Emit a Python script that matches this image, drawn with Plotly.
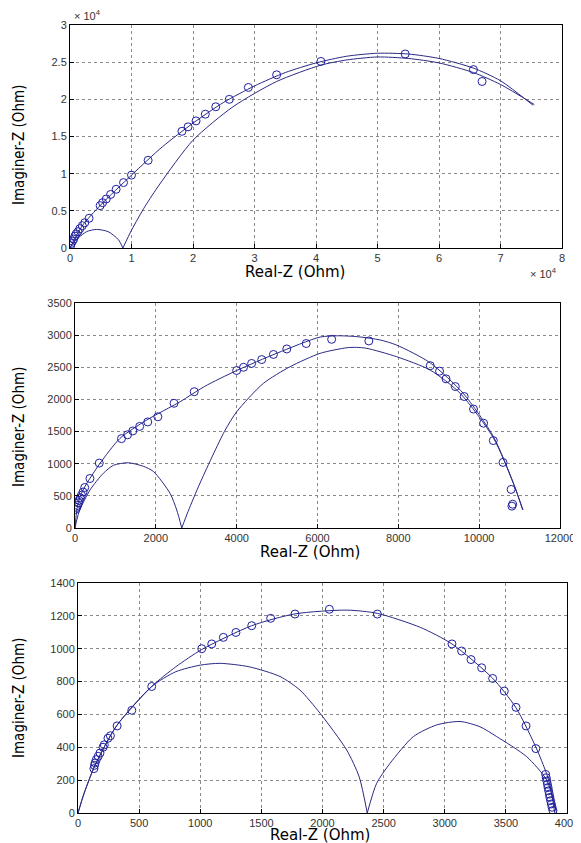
import plotly.graph_objects as go

# ---------------- Panel 1 (values in units of 1e4 Ohm) ----------------
p1_mk_x = [0.01, 0.02, 0.04, 0.06, 0.08, 0.10, 0.13, 0.16, 0.20, 0.24, 0.31, 0.49, 0.53, 0.59,
           0.66, 0.75, 0.87, 1.00, 1.27, 1.82, 1.92, 2.05, 2.20, 2.37, 2.59, 2.90, 3.36, 4.08,
           5.45, 6.56, 6.70]
p1_mk_y = [0.03, 0.06, 0.09, 0.12, 0.16, 0.19, 0.22, 0.26, 0.30, 0.34, 0.40, 0.57, 0.61, 0.66,
           0.72, 0.79, 0.88, 0.98, 1.18, 1.57, 1.63, 1.71, 1.80, 1.90, 2.00, 2.16, 2.33, 2.51,
           2.61, 2.40, 2.24]
p1_fit_x = [0, 0.2, 0.5, 1.0, 1.5, 2.0, 2.5, 3.0, 3.5, 4.0, 4.5, 5.0, 5.5, 6.0, 6.56, 7.0, 7.53]
p1_fit_y = [0, 0.30, 0.58, 0.98, 1.36, 1.68, 1.96, 2.18, 2.36, 2.49, 2.58, 2.62, 2.61, 2.55, 2.42, 2.25, 1.92]
p1_arcA_x = [0, 0.05, 0.14, 0.27, 0.43, 0.62, 0.79, 0.86]
p1_arcA_y = [0, 0.07, 0.14, 0.22, 0.25, 0.22, 0.11, 0.0]
p1_arcB_x = [0.86, 1.0, 1.22, 1.46, 2.0, 2.65, 3.36, 4.08, 4.5, 5.0, 5.5, 6.0, 6.56, 7.0, 7.55]
p1_arcB_y = [0.0, 0.24, 0.56, 0.86, 1.45, 1.90, 2.24, 2.46, 2.53, 2.57, 2.55, 2.49, 2.36, 2.20, 1.93]

# ---------------- Panel 2 (Ohm) ----------------
p2_mk_x = [20, 40, 60, 80, 100, 130, 160, 200, 240, 370, 600, 1150, 1300, 1430, 1600, 1800,
           2050, 2450, 2950, 4000, 4170, 4370, 4620, 4910, 5240, 5720, 6350, 7270, 8790, 9020,
           9180, 9410, 9630, 9860, 10110, 10350, 10590, 10790, 10810, 10830]
p2_mk_y = [290, 320, 350, 390, 430, 470, 510, 560, 630, 770, 1010, 1390, 1450, 1510, 1580, 1650,
           1730, 1940, 2120, 2450, 2500, 2560, 2620, 2700, 2785, 2870, 2935, 2910, 2525, 2440,
           2320, 2200, 2045, 1850, 1630, 1360, 1020, 600, 340, 370]
p2_fit_x = [0, 50, 124, 250, 371, 619, 1114, 1775, 2600, 3200, 4000, 5000, 6064, 6500, 7000,
            7550, 7960, 8787, 9612, 10354, 10849, 11081]
p2_fit_y = [0, 300, 490, 650, 773, 1006, 1395, 1680, 1964, 2200, 2450, 2720, 2970, 2990, 2975,
            2925, 2845, 2570, 2090, 1420, 695, 280]
p2_arcA_x = [0, 100, 371, 701, 950, 1320, 1690, 1938, 2351, 2517, 2641]
p2_arcA_y = [0, 250, 591, 851, 975, 1015, 960, 880, 540, 280, 0]
p2_arcB_x = [2641, 2800, 3094, 3696, 4002, 4661, 5322, 6064, 6725, 6972, 7220, 7960, 8787,
             9530, 10354, 10849, 11081]
p2_arcB_y = [0, 260, 700, 1500, 1809, 2250, 2509, 2717, 2804, 2810, 2795, 2664, 2457,
             2095, 1400, 690, 280]

# ---------------- Panel 3 (Ohm) ----------------
p3_mk_x = [130, 135, 140, 150, 165, 180, 205, 215, 245, 265, 320, 440, 603, 1012, 1094, 1189,
           1292, 1421, 1576, 1775, 2056, 2449, 3059, 3138, 3215, 3302, 3392, 3487, 3583, 3665,
           3745, 3825, 3830, 3835, 3840, 3845, 3850, 3855, 3860, 3866, 3872, 3878, 3885]
p3_mk_y = [270, 290, 305, 325, 345, 365, 400, 415, 455, 470, 530, 625, 770, 1000, 1029, 1069,
           1099, 1140, 1185, 1211, 1240, 1211, 1029, 986, 934, 884, 819, 742, 643, 530,
           392, 235, 215, 195, 175, 155, 135, 115, 95, 75, 55, 35, 15]
p3_fit_x = [0, 50, 139, 316, 603, 800, 1012, 1421, 1775, 2200, 2449, 2800, 3059, 3392, 3583,
            3752, 3850, 3900]
p3_fit_y = [0, 120, 290, 531, 770, 890, 995, 1140, 1212, 1235, 1215, 1130, 1029, 820, 640,
            390, 200, 0]
p3_arcA_x = [0, 50, 139, 316, 603, 800, 1000, 1161, 1400, 1652, 1816, 1980, 2198, 2300, 2366]
p3_arcA_y = [0, 120, 290, 531, 770, 860, 900, 911, 890, 831, 748, 607, 383, 220, 0]
p3_arcB_x = [2366, 2443, 2552, 2743, 2934, 3125, 3288, 3425, 3670, 3834, 3915]
p3_arcB_y = [0, 181, 302, 465, 536, 557, 525, 465, 343, 200, 0]

LINE = "#2a2a82"
MARK = "#1f1fa0"
OFF = 8                    # default page body margin
W, H = 581 - OFF, 843 - OFF

fig = go.Figure()

panels = [
    (p1_mk_x, p1_mk_y, p1_fit_x, p1_fit_y, p1_arcA_x, p1_arcA_y, p1_arcB_x, p1_arcB_y, ""),
    (p2_mk_x, p2_mk_y, p2_fit_x, p2_fit_y, p2_arcA_x, p2_arcA_y, p2_arcB_x, p2_arcB_y, "2"),
    (p3_mk_x, p3_mk_y, p3_fit_x, p3_fit_y, p3_arcA_x, p3_arcA_y, p3_arcB_x, p3_arcB_y, "3"),
]
for mx, my, fx, fy, ax_, ay_, bx, by, s in panels:
    xa, ya = "x" + s, "y" + s
    for lx, ly in ((fx, fy), (ax_, ay_), (bx, by)):
        fig.add_trace(go.Scatter(x=lx, y=ly, mode="lines", xaxis=xa, yaxis=ya,
                                 line=dict(color=LINE, width=1, shape="spline", smoothing=0.7),
                                 showlegend=False, hoverinfo="skip"))
    fig.add_trace(go.Scatter(x=mx, y=my, mode="markers", xaxis=xa, yaxis=ya,
                             marker=dict(symbol="circle-open", size=8, color=MARK,
                                         line=dict(width=1, color=MARK)),
                             showlegend=False))

def px2x(p):
    return (p - OFF) / W

def py2y(p):
    return 1 - (p - OFF) / H

tickfont = dict(family="Liberation Sans, Arial", size=11, color="#333333")
common = dict(showgrid=True, gridcolor="#8a8a8a", griddash="dot", gridwidth=1,
              showline=True, linecolor="black", linewidth=1, mirror=True,
              ticks="inside", ticklen=4, tickcolor="black", zeroline=False,
              tickfont=tickfont, automargin=False, fixedrange=True)

doms = [
    ((70, 562), (25, 248), [0, 8], 1, [0, 3], 0.5),
    ((75, 560), (303, 528), [0, 12000], 2000, [0, 3500], 500),
    ((78, 567), (583, 813), [0, 4000], 500, [0, 1400], 200),
]
lay = {}
for i, ((x0, x1), (y0, y1), xr, dx, yr, dy) in enumerate(doms):
    s = "" if i == 0 else str(i + 1)
    lay["xaxis" + s] = dict(common, domain=[px2x(x0), px2x(x1)], range=xr, dtick=dx, tick0=0,
                            anchor="y" + s, tickformat="d" if i else "")
    lay["yaxis" + s] = dict(common, domain=[py2y(y1), py2y(y0)], range=yr, dtick=dy, tick0=0,
                            anchor="x" + s, tickformat="d" if i else "")

ann = []
ytitle_font = dict(family="DejaVu Sans Condensed, Liberation Sans Narrow, Arial", size=15, color="black")
xtitle_font = dict(family="DejaVu Sans, Arial", size=15, color="black")
for cy in (145, 427, 698):
    ann.append(dict(text="Imaginer-Z (Ohm)", x=px2x(19), y=py2y(cy), xref="paper", yref="paper",
                    textangle=-90, showarrow=False, font=ytitle_font,
                    xanchor="center", yanchor="middle"))
for cx, cy in ((295, 272), (310, 552), (320, 835)):
    ann.append(dict(text="Real-Z (Ohm)", x=px2x(cx), y=py2y(cy), xref="paper", yref="paper",
                    showarrow=False, font=xtitle_font, xanchor="center", yanchor="middle"))
ann.append(dict(text="× 10<sup>4</sup>", x=px2x(72), y=py2y(15), xref="paper", yref="paper",
                showarrow=False, font=dict(family="Liberation Sans, Arial", size=11, color="#333333"),
                xanchor="left", yanchor="middle"))
ann.append(dict(text="× 10<sup>4</sup>", x=px2x(528), y=py2y(273), xref="paper", yref="paper",
                showarrow=False, font=dict(family="Liberation Sans, Arial", size=11, color="#333333"),
                xanchor="left", yanchor="middle"))

fig.update_layout(width=W, height=H, autosize=False, margin=dict(l=0, r=0, t=0, b=0),
                  paper_bgcolor="white", plot_bgcolor="white", annotations=ann, **lay)

fig.write_html("out.html")
